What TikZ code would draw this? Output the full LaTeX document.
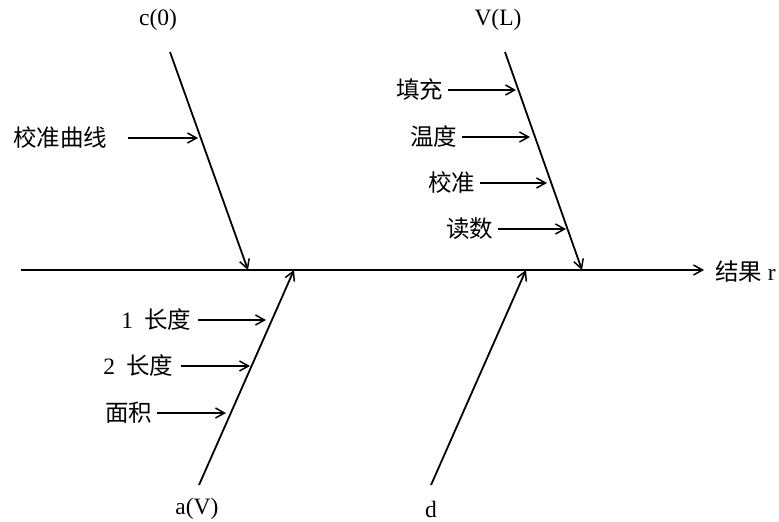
\documentclass[tikz,border=0pt]{standalone}
\usepackage{fontspec}
\setmainfont{Liberation Serif}
\newfontfamily\cjk{Noto Sans CJK SC}
\usetikzlibrary{arrows.meta}
\begin{document}
\begin{tikzpicture}[x=1pt,y=-1pt,
  every node/.style={font=\fontsize{23.5}{28}\selectfont, inner sep=0pt, outer sep=0pt},
  tip/.style={-{Straight Barb[length=9pt,width=10pt,line width=1.5pt]}},
  bone/.style={line width=1.8pt, tip},
  sub/.style={line width=1.6pt, tip, shorten <=5pt},
  lab/.style={anchor=east}]
\useasboundingbox (0,0) rectangle (779,522);
% spine
\coordinate (s0) at (21,270);
\coordinate (s1) at (704,270);
\node[anchor=west] (res) at (715,272) {{\cjk 结果} r};
\draw[bone] (s0) -- (s1);
% main bones
\node (c0) at (158,20) {c(0)};
\node (VL) at (498,20) {V(L)};
\node (aV) at (197,509) {a(V)};
\node (d) at (431,509) {d};
\coordinate (c0t) at (170,52);  \coordinate (c0b) at (248,270);
\coordinate (VLt) at (505,52);  \coordinate (VLb) at (582,270);
\coordinate (aVb) at (199,485); \coordinate (aVt) at (294,270);
\coordinate (db) at (431,485);  \coordinate (dt) at (526,270);
\draw[bone] (c0t) -- (c0b);
\draw[bone] (VLt) -- (VLb);
\draw[bone] (aVb) -- (aVt);
\draw[bone] (db) -- (dt);
% causes on c(0)
\node[lab] (k1) at (107,138) {\cjk 校准曲线};
\coordinate (k1e) at (198,138);
\draw[sub, shorten <=21pt] (k1) -- (k1e);
% causes on V(L)
\node[lab] (v1) at (443,90) {\cjk 填充};
\node[lab] (v2) at (457,137) {\cjk 温度};
\node[lab] (v3) at (475,183) {\cjk 校准};
\node[lab] (v4) at (493,229) {\cjk 读数};
\coordinate (v1e) at (516,90);
\coordinate (v2e) at (530,137);
\coordinate (v3e) at (547,183);
\coordinate (v4e) at (566,229);
\draw[sub] (v1) -- (v1e);
\draw[sub] (v2) -- (v2e);
\draw[sub] (v3) -- (v3e);
\draw[sub] (v4) -- (v4e);
% causes on a(V)
\node[lab] (a1) at (191,320) {1\hspace{11pt}{\cjk 长度}};
\node[lab] (a2) at (173,366) {2\hspace{11pt}{\cjk 长度}};
\node[lab] (a3) at (152,413) {\cjk 面积};
\coordinate (a1e) at (266,320);
\coordinate (a2e) at (250,366);
\coordinate (a3e) at (226,413);
\draw[sub, shorten <=7pt] (a1) -- (a1e);
\draw[sub, shorten <=8pt] (a2) -- (a2e);
\draw[sub] (a3) -- (a3e);
\end{tikzpicture}
\end{document}
